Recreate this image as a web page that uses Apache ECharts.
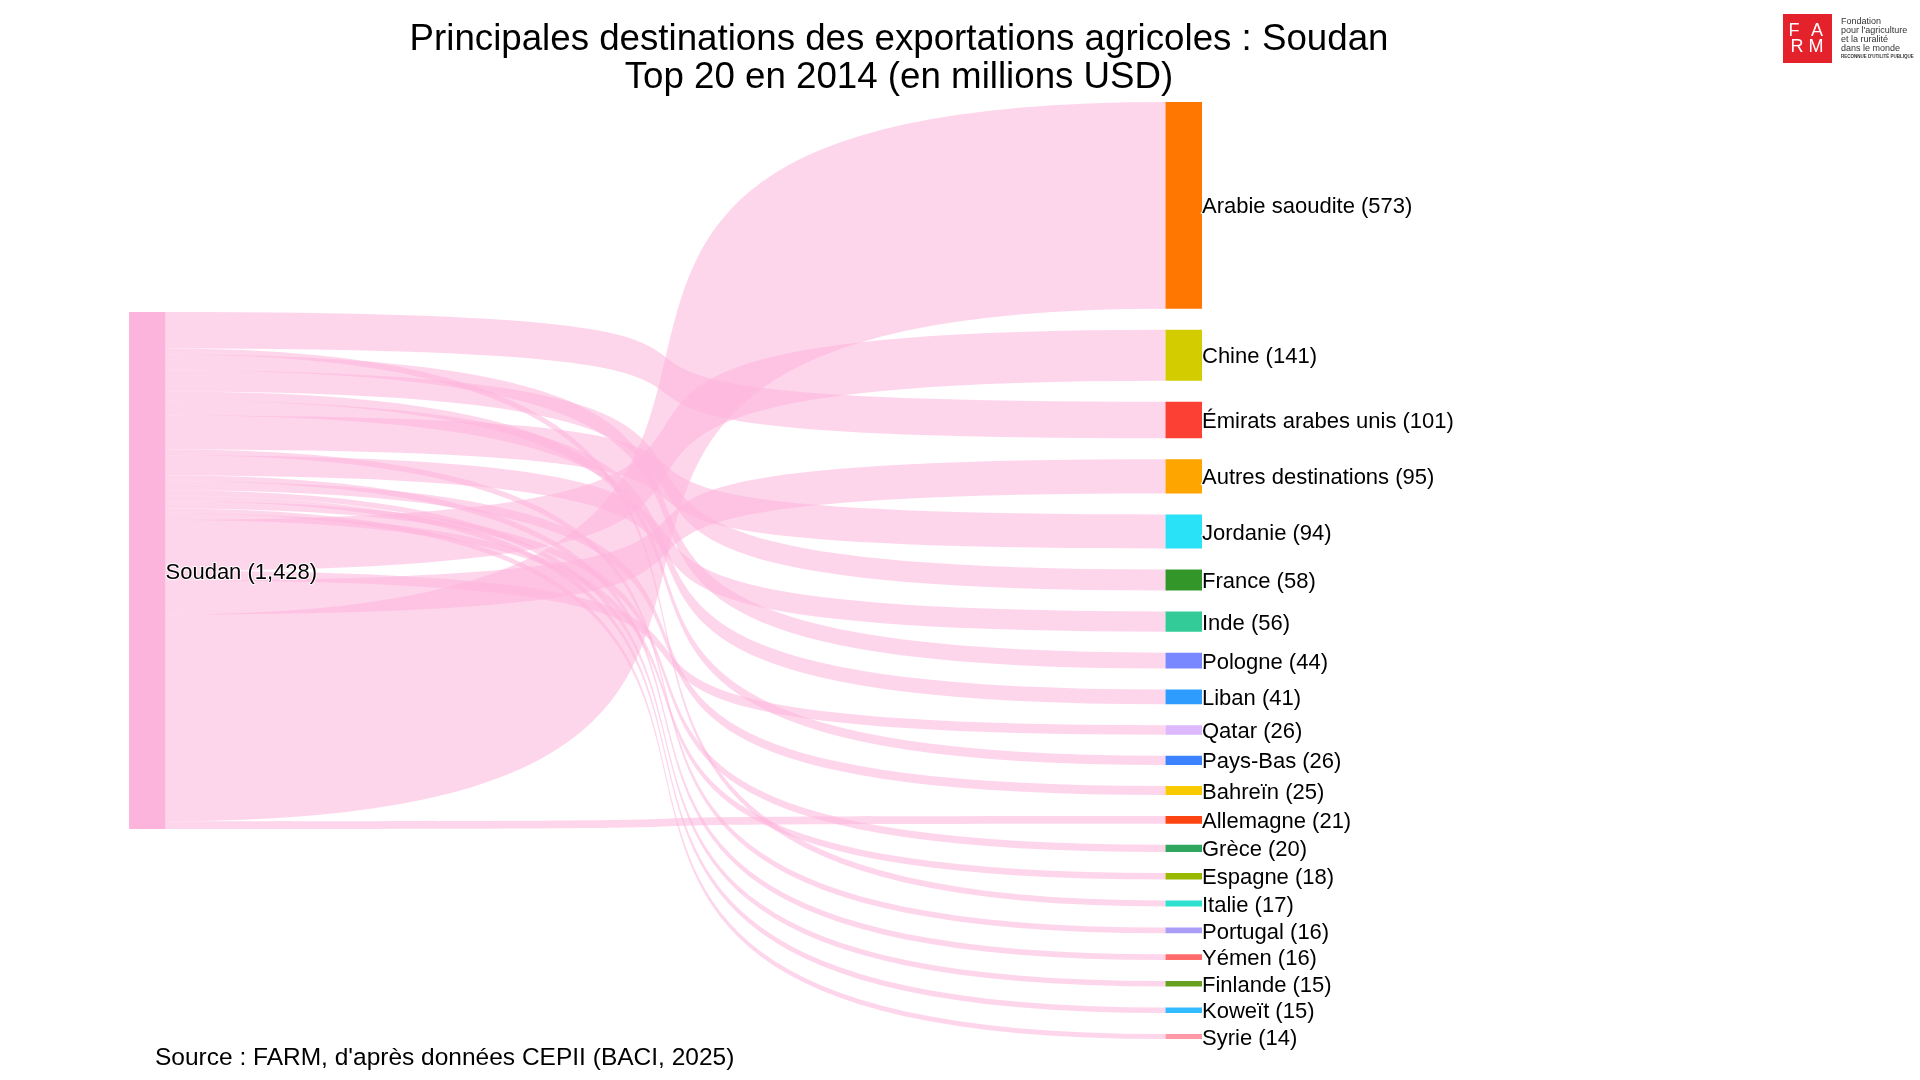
<!DOCTYPE html>
<html>
<head>
<meta charset="utf-8">
<script src="https://cdn.jsdelivr.net/npm/echarts@6/dist/echarts.min.js"></script>
<style>
html, body { margin: 0; padding: 0; background: #fff; }
#chart { width: 1920px; height: 1080px; }
</style>
</head>
<body>
<div id="chart"></div>
<script>
var sourceName = 'Soudan';
var sourceTotal = 1428;
// destinations, biggest first (order of the nodes on the right)
var destinations = ['Arabie saoudite', 'Chine', 'Émirats arabes unis', 'Autres destinations', 'Jordanie',
    'France', 'Inde', 'Pologne', 'Liban', 'Qatar', 'Pays-Bas', 'Bahreïn', 'Allemagne', 'Grèce',
    'Espagne', 'Italie', 'Portugal', 'Yémen', 'Finlande', 'Koweït', 'Syrie'];
var values = [573, 141, 101, 95, 94, 58, 56, 44, 41, 26, 26, 25, 21, 20, 18, 17, 16, 16, 15, 15, 14];
// order in which the flows leave Soudan, top to bottom
var flowOrder = ['Émirats arabes unis', 'Italie', 'Pologne', 'France', 'Pays-Bas', 'Liban', 'Jordanie',
    'Portugal', 'Inde', 'Yémen', 'Bahreïn', 'Finlande', 'Koweït', 'Grèce', 'Syrie', 'Espagne',
    'Chine', 'Qatar', 'Autres destinations', 'Arabie saoudite', 'Allemagne'];
var nodeColors = ['#FF7700', '#D2CC00', '#FC4034', '#FFA500', '#29E2F7', '#339628', '#33CC99', '#7A88FF',
    '#2E9BFF', '#DCB8FF', '#3B82FF', '#FACA00', '#FF4411', '#2EA65E', '#99B800', '#2EE0D0',
    '#A99DF5', '#FF6B6B', '#66A01E', '#33BBFF', '#FF99A6'];

var myChart = echarts.init(document.getElementById('chart'));

var box = { left: 129, top: 102, width: 1073, height: 937 };
var nodeGap = 21;
var total = values.reduce(function (a, b) { return a + b; }, 0);
var ky = (box.height - (destinations.length - 1) * nodeGap) / total;

// slots of the right column, stacked by size
var slotY = {};
var acc = 0;
destinations.forEach(function (name, i) {
    slotY[name] = acc / box.height;
    acc += values[i] * ky + nodeGap;
});

var nodes = [{
    name: sourceName,
    localY: (box.height - total * ky) / 2 / box.height,
    itemStyle: { color: '#FDB4DC' }
}];
flowOrder.forEach(function (name) {
    nodes.push({
        name: name,
        localY: slotY[name],
        itemStyle: { color: nodeColors[destinations.indexOf(name)] }
    });
});
var links = flowOrder.map(function (name) {
    return { source: sourceName, target: name, value: values[destinations.indexOf(name)] };
});

var font = 'Liberation Sans, Arial, sans-serif';

var option = {
    backgroundColor: '#fff',
    animation: false,
    series: [{
        type: 'sankey',
        left: box.left,
        top: box.top,
        width: box.width,
        height: box.height,
        nodeWidth: 36.5,
        nodeGap: nodeGap,
        layoutIterations: 0,
        draggable: false,
        emphasis: { disabled: true },
        data: nodes,
        links: links,
        itemStyle: { borderWidth: 0 },
        lineStyle: { color: '#FDB4DC', opacity: 0.55, curveness: 0.88 },
        label: {
            position: 'right',
            distance: 0,
            offset: [0, 2],
            fontFamily: font,
            fontSize: 22,
            color: '#000',
            textBorderColor: 'rgba(255,255,255,0.9)',
            textBorderWidth: 2,
            formatter: function (p) {
                if (p.name === sourceName) {
                    return sourceName + ' (' + sourceTotal.toLocaleString('en-US') + ')';
                }
                return p.name + ' (' + p.value + ')';
            }
        }
    }],
    graphic: [
        { type: 'text', x: 899, y: 40, style: { text: 'Principales destinations des exportations agricoles : Soudan',
            fontFamily: font, fontSize: 36.7, fill: '#000', align: 'center', verticalAlign: 'middle' } },
        { type: 'text', x: 899, y: 78, style: { text: 'Top 20 en 2014 (en millions USD)',
            fontFamily: font, fontSize: 36.7, fill: '#000', align: 'center', verticalAlign: 'middle' } },
        { type: 'text', x: 155, y: 1058, style: { text: "Source : FARM, d'après données CEPII (BACI, 2025)",
            fontFamily: font, fontSize: 24.5, fill: '#000', align: 'left', verticalAlign: 'middle' } },
        // logo
        { type: 'rect', shape: { x: 1783, y: 14, width: 49, height: 49 }, style: { fill: '#E4222B' } },
        { type: 'text', x: 1794, y: 31, style: { text: 'F', fontFamily: font, fontSize: 18, fill: '#fff', align: 'center', verticalAlign: 'middle' } },
        { type: 'text', x: 1817, y: 31, style: { text: 'A', fontFamily: font, fontSize: 18, fill: '#fff', align: 'center', verticalAlign: 'middle' } },
        { type: 'text', x: 1797, y: 47, style: { text: 'R', fontFamily: font, fontSize: 18, fill: '#fff', align: 'center', verticalAlign: 'middle' } },
        { type: 'text', x: 1816, y: 47, style: { text: 'M', fontFamily: font, fontSize: 18, fill: '#fff', align: 'center', verticalAlign: 'middle' } },
        { type: 'text', x: 1841, y: 22, style: { text: 'Fondation', fontFamily: font, fontSize: 9, fill: '#333', verticalAlign: 'middle' } },
        { type: 'text', x: 1841, y: 31, style: { text: "pour l'agriculture", fontFamily: font, fontSize: 9, fill: '#333', verticalAlign: 'middle' } },
        { type: 'text', x: 1841, y: 40, style: { text: 'et la ruralité', fontFamily: font, fontSize: 9, fill: '#333', verticalAlign: 'middle' } },
        { type: 'text', x: 1841, y: 49, style: { text: 'dans le monde', fontFamily: font, fontSize: 9, fill: '#333', verticalAlign: 'middle' } },
        { type: 'text', x: 1841, y: 57, style: { text: "RECONNUE D'UTILITÉ PUBLIQUE", fontFamily: font, fontSize: 4.5, fontWeight: 'bold', fill: '#333', verticalAlign: 'middle' } }
    ]
};
myChart.setOption(option);
</script>
</body>
</html>
